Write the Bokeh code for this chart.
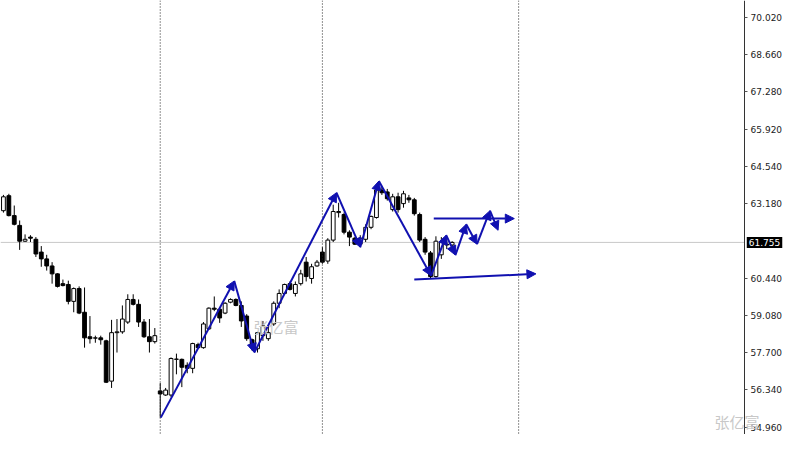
from bokeh.plotting import figure
from bokeh.models import (ColumnDataSource, Range1d, LinearAxis, FixedTicker,
                          PrintfTickFormatter, Span, Arrow, NormalHead, Label)
from bokeh.embed import file_html
from bokeh.resources import INLINE

# ---- data (bar index, OHLC prices) ----
opens = [62.92, 63.47, 62.74, 62.38, 61.80, 61.95, 61.87, 61.40, 61.15, 60.89,
         60.60, 60.24, 60.21, 59.59, 60.06, 59.19, 58.29, 58.24, 58.25, 58.14,
         56.66, 58.44, 58.47, 58.83, 59.66, 59.48, 58.83, 58.29, 58.11, 56.30,
         56.15, 56.15, 57.46, 57.46, 57.24, 57.13, 58.00, 57.89, 58.58, 59.34,
         59.30, 59.16, 59.56, 59.66, 59.44, 59.05, 58.18, 57.85, 58.33, 58.22,
         58.76, 59.52, 59.88, 60.24, 59.88, 60.24, 61.03, 60.43, 60.89, 61.40,
         61.07, 61.84, 62.85, 62.78, 62.13, 61.91, 61.69, 61.87, 62.31, 62.67,
         63.68, 63.61, 62.96, 63.43, 63.18, 63.39, 63.32, 62.78, 61.87, 61.37,
         60.50, 61.30, 61.69, 61.66]
highs = [63.50, 63.54, 63.11, 62.56, 62.05, 62.02, 61.95, 61.62, 61.30, 61.03,
         60.62, 60.39, 60.35, 60.10, 60.14, 60.10, 59.05, 58.33, 58.33, 58.18,
         58.91, 58.94, 59.44, 59.85, 59.85, 59.66, 58.94, 58.94, 58.61, 56.59,
         56.41, 57.53, 57.67, 57.49, 57.35, 58.07, 58.07, 58.83, 59.37, 59.77,
         59.37, 59.56, 59.70, 59.70, 59.59, 59.12, 58.22, 58.47, 58.87, 58.72,
         59.59, 60.03, 60.24, 60.32, 60.32, 60.75, 61.22, 60.97, 61.11, 61.58,
         61.91, 63.14, 63.21, 62.85, 62.20, 61.95, 62.02, 62.42, 62.74, 63.76,
         63.79, 63.72, 63.54, 63.58, 63.65, 63.50, 63.39, 62.85, 61.95, 61.44,
         61.98, 61.95, 61.87, 61.80]
lows = [62.85, 62.71, 62.38, 61.48, 61.77, 61.77, 61.22, 60.86, 60.72, 60.24,
        60.10, 60.14, 59.48, 59.19, 59.12, 57.89, 58.04, 58.07, 58.00, 56.59,
        56.41, 57.71, 58.40, 58.76, 59.44, 58.65, 58.25, 57.71, 58.04, 55.32,
        56.12, 56.08, 56.91, 56.44, 56.95, 56.95, 57.85, 57.85, 58.54, 59.23,
        58.80, 59.12, 59.52, 59.41, 58.65, 58.14, 57.78, 57.71, 58.14, 58.14,
        58.69, 59.34, 59.85, 59.99, 59.77, 60.17, 60.32, 60.24, 60.86, 60.97,
        60.97, 61.77, 62.67, 62.05, 61.62, 61.66, 61.58, 61.77, 62.24, 62.63,
        63.50, 63.29, 62.89, 62.85, 63.03, 63.21, 62.74, 61.77, 61.30, 60.43,
        60.46, 61.15, 61.51, 61.40]
closes = [63.43, 62.74, 62.42, 61.80, 61.87, 61.91, 61.33, 61.15, 60.89, 60.60,
          60.14, 60.17, 59.59, 60.06, 59.16, 58.25, 58.22, 58.25, 58.18, 56.62,
          58.44, 58.47, 58.94, 59.66, 59.48, 58.83, 58.29, 58.11, 58.33, 56.19,
          56.33, 57.49, 57.47, 57.17, 57.13, 58.04, 57.89, 58.76, 59.34, 59.30,
          58.98, 59.52, 59.66, 59.44, 58.87, 58.22, 57.89, 58.44, 58.69, 58.44,
          59.52, 59.88, 60.21, 60.03, 60.21, 60.60, 60.50, 60.86, 61.03, 61.03,
          61.84, 62.89, 62.89, 62.13, 61.95, 61.69, 61.91, 62.31, 62.71, 63.68,
          63.58, 63.36, 63.43, 62.96, 63.54, 63.32, 62.81, 61.84, 61.40, 60.50,
          61.80, 61.77, 61.66, 61.755]

last_price = 61.755
price_ticks = [70.02, 68.66, 67.28, 65.92, 64.54, 63.18, 60.44, 59.08, 57.70, 56.34, 54.96]
separators = [29, 59, 95.3]
axis_bar = 137.1  # price scale sits this many bars from the left edge

# hand-drawn zigzag (bar index, price)
zig_bar = [29.1, 42.7, 46.4, 61.6, 66.0, 69.45, 79.1, 81.9, 83.6, 85.6, 87.6, 90.0, 91.5]
zig_price = [55.32, 60.34, 57.71, 63.58, 61.58, 64.01, 60.53, 62.02, 61.29, 62.42, 61.69, 62.92, 62.20]
# straight arrows: upper horizontal and lower support
ray_bar_start = [79.6, 76.0]
ray_bar_end = [94.5, 98.5]
ray_price_start = [62.63, 60.39]
ray_price_end = [62.63, 60.60]

watermark = "张亿富"

BLUE = "#1010b0"

idx = list(range(len(opens)))
up = [c >= o for o, c in zip(opens, closes)]
src = ColumnDataSource(dict(
    x=idx, o=opens, h=highs, l=lows, c=closes,
    top=[max(o, c) for o, c in zip(opens, closes)],
    bot=[min(o, c) for o, c in zip(opens, closes)],
    fill=["white" if u else "black" for u in up],
))

p = figure(width=784, height=434, output_backend="svg", toolbar_location=None,
           x_range=Range1d(-0.545, 144.48), y_range=Range1d(54.70, 70.64),
           min_border_left=0, min_border_top=0, min_border_bottom=0, min_border_right=0,
           x_axis_location=None, y_axis_location=None)
p.outline_line_color = None
p.xgrid.visible = False
p.ygrid.visible = False
p.background_fill_color = "white"

yaxis = LinearAxis(ticker=FixedTicker(ticks=price_ticks),
                   formatter=PrintfTickFormatter(format="%.3f"),
                   fixed_location=axis_bar)
yaxis.major_tick_in = 0
yaxis.major_tick_out = 3
yaxis.minor_tick_line_color = None
yaxis.major_label_standoff = 3
yaxis.major_label_text_font = "DejaVu Sans"
yaxis.major_label_text_font_size = "9px"
yaxis.major_label_text_color = "#222222"
yaxis.axis_line_color = "#333333"
yaxis.major_tick_line_color = "#555555"
p.add_layout(yaxis, "right")

for s in separators:
    p.add_layout(Span(location=s, dimension="height", line_color="#222222",
                      line_width=1, line_dash="1 2"))

p.segment(x0=[-0.545], y0=[last_price], x1=[axis_bar], y1=[last_price],
          line_color="#c8c8c8", line_width=1)

p.segment(x0="x", y0="h", x1="x", y1="l", source=src, line_color="black", line_width=1)
p.vbar(x="x", top="top", bottom="bot", width=0.7, source=src,
       fill_color="fill", line_color="black", line_width=1)

zsrc = ColumnDataSource(dict(xs=zig_bar[:-1], ys=zig_price[:-1], xe=zig_bar[1:], ye=zig_price[1:]))
p.add_layout(Arrow(x_start="xs", y_start="ys", x_end="xe", y_end="ye", source=zsrc,
                   line_color=BLUE, line_width=2,
                   end=NormalHead(size=9, fill_color=BLUE, line_color=BLUE)))
rsrc = ColumnDataSource(dict(xs=ray_bar_start, ys=ray_price_start, xe=ray_bar_end, ye=ray_price_end))
p.add_layout(Arrow(x_start="xs", y_start="ys", x_end="xe", y_end="ye", source=rsrc,
                   line_color=BLUE, line_width=2,
                   end=NormalHead(size=9, fill_color=BLUE, line_color=BLUE)))

p.add_layout(Label(x=50.4, y=58.65, text=watermark, text_align="center", text_baseline="middle",
                   text_font="Noto Sans CJK SC", text_font_size="15px", text_color="#c8c8c8"))
p.add_layout(Label(x=135.7, y=55.18, text=watermark, text_align="center", text_baseline="middle",
                   text_font="Noto Sans CJK SC", text_font_size="15px", text_color="#c8c8c8"))

p.add_layout(Label(x=axis_bar + 0.4, y=last_price, text="61.755",
                   text_align="left", text_baseline="middle", text_font="DejaVu Sans",
                   text_font_size="9px", text_color="white",
                   background_fill_color="black", padding=2))

open("out.html", "w").write(file_html(p, INLINE))
